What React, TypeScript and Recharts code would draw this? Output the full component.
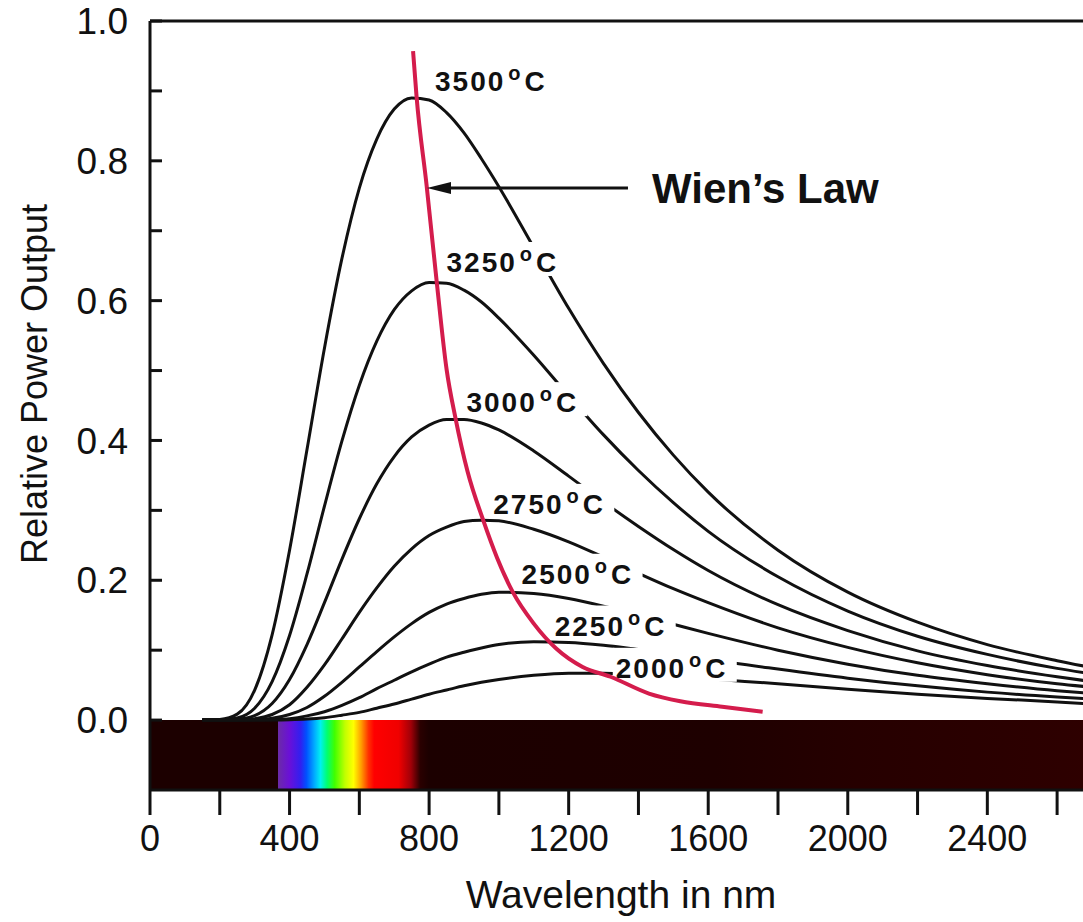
import React from "react";
import {
  Line,
  LineChart,
  ReferenceArea,
  ReferenceDot,
  ReferenceLine,
  XAxis,
  YAxis,
} from "recharts";

const FONT = "'Liberation Sans', Arial, Helvetica, sans-serif";

// wavelength samples (nm) shared by all the black-body curves
const wavelengths = [
  150, 200, 250, 300, 350, 400, 450, 500, 550, 600, 650, 700, 750, 800, 850,
  900, 950, 1000, 1100, 1200, 1300, 1400, 1500, 1600, 1800, 2000, 2200, 2400,
  2600, 2700,
];

// relative power output, one list per temperature
const t3500 = [
  0, 0.001, 0.0085, 0.043, 0.122, 0.243, 0.387, 0.532, 0.66, 0.761, 0.831,
  0.874, 0.89, 0.887, 0.869, 0.84, 0.803, 0.763, 0.676, 0.589, 0.51, 0.44,
  0.379, 0.326, 0.243, 0.183, 0.14, 0.108, 0.085, 0.075,
];
const t3250 = [
  0, 0, 0.003, 0.017, 0.055, 0.121, 0.209, 0.306, 0.399, 0.479, 0.542, 0.587,
  0.614, 0.626, 0.625, 0.615, 0.598, 0.575, 0.522, 0.464, 0.408, 0.357, 0.311,
  0.27, 0.205, 0.156, 0.12, 0.094, 0.074, 0.066,
];
const t3000 = [
  0, 0, 0.001, 0.0064, 0.0237, 0.058, 0.108, 0.168, 0.23, 0.288, 0.338, 0.377,
  0.405, 0.422, 0.43, 0.43, 0.425, 0.415, 0.385, 0.349, 0.312, 0.277, 0.244,
  0.214, 0.165, 0.128, 0.099, 0.078, 0.062, 0.055,
];
const t2750 = [
  0, 0, 0, 0.002, 0.008, 0.022, 0.047, 0.079, 0.116, 0.154, 0.189, 0.22, 0.245,
  0.264, 0.276, 0.284, 0.286, 0.285, 0.273, 0.255, 0.233, 0.21, 0.188, 0.168,
  0.132, 0.104, 0.082, 0.065, 0.052, 0.047,
];
const t2500 = [
  0, 0, 0, 0.0005, 0.0025, 0.008, 0.018, 0.034, 0.054, 0.076, 0.098, 0.119,
  0.138, 0.154, 0.166, 0.174, 0.18, 0.183, 0.181, 0.174, 0.163, 0.15, 0.137,
  0.124, 0.1, 0.08, 0.064, 0.052, 0.042, 0.038,
];
const t2250 = [
  0, 0, 0, 0.0001, 0.0006, 0.002, 0.006, 0.012, 0.021, 0.032, 0.045, 0.057,
  0.069, 0.08, 0.09, 0.097, 0.103, 0.108, 0.112, 0.111, 0.107, 0.101, 0.095,
  0.087, 0.073, 0.06, 0.049, 0.04, 0.033, 0.03,
];
const t2000 = [
  0, 0, 0, 0, 0.0001, 0.0005, 0.0015, 0.0035, 0.007, 0.011, 0.017, 0.023, 0.03,
  0.037, 0.043, 0.049, 0.054, 0.058, 0.064, 0.067, 0.067, 0.065, 0.063, 0.059,
  0.052, 0.044, 0.037, 0.031, 0.026, 0.023,
];

// Wien's law: locus of the peaks
const wienNm = [
  754, 764, 793, 822, 850, 876, 910, 955, 995, 1040, 1100, 1165, 1240, 1320,
  1430, 1520, 1640, 1756,
];
const wienVal = [
  0.957, 0.892, 0.764, 0.626, 0.502, 0.431, 0.356, 0.286, 0.232, 0.183, 0.138,
  0.102, 0.076, 0.062, 0.038, 0.027, 0.019, 0.012,
];

const series = [
  { key: "t3500", values: t3500 },
  { key: "t3250", values: t3250 },
  { key: "t3000", values: t3000 },
  { key: "t2750", values: t2750 },
  { key: "t2500", values: t2500 },
  { key: "t2250", values: t2250 },
  { key: "t2000", values: t2000 },
];

// curve labels: text, left edge (nm) and baseline (relative power)
const tempLabels = ["3500", "3250", "3000", "2750", "2500", "2250", "2000"];
const labelNm = [817, 850, 907, 984, 1065, 1160, 1335];
const labelVal = [0.9, 0.641, 0.4405, 0.295, 0.195, 0.121, 0.0605];

const xTicks = [0, 200, 400, 600, 800, 1000, 1200, 1400, 1600, 1800, 2000, 2200, 2400, 2600];
const yTicks = [0, 0.1, 0.2, 0.3, 0.4, 0.5, 0.6, 0.7, 0.8, 0.9, 1.0];

const rows = wavelengths.map((nm, i) => {
  const row: Record<string, number> = { nm };
  series.forEach((s) => (row[s.key] = s.values[i]));
  return row;
});
const wienRows = wienNm.map((nm, i) => ({ nm, wien: wienVal[i] }));

const spectrumStops = [
  [0, "#1c0000"],
  [0.1355, "#1c0000"],
  [0.1363, "#6b2aa8"],
  [0.148, "#6a10d8"],
  [0.16, "#3020f0"],
  [0.166, "#0050ff"],
  [0.175, "#00b0ff"],
  [0.181, "#00f0f0"],
  [0.188, "#00ff70"],
  [0.196, "#40ff00"],
  [0.207, "#c0ff00"],
  [0.216, "#ffff00"],
  [0.224, "#ffa000"],
  [0.232, "#ff3000"],
  [0.238, "#ff0000"],
  [0.264, "#f00000"],
  [0.277, "#a00008"],
  [0.287, "#2a0000"],
  [0.296, "#1c0000"],
  [0.6, "#1e0000"],
  [0.75, "#260000"],
  [1, "#2e0000"],
];

const renderTempLabel = (p: any, text: string) => (
  <g>
    <rect x={p.cx - 3} y={p.cy - 30} width={124} height={34} fill="#fff" />
    <text
      x={p.cx}
      y={p.cy}
      fontFamily={FONT}
      fontWeight="bold"
      fontSize={28}
      letterSpacing={2}
      fill="#111"
    >
      {text}
      <tspan fontSize={20} dx={3} dy={-11}>
        o
      </tspan>
      <tspan dx={2} dy={11}>
        C
      </tspan>
    </text>
  </g>
);

const renderArrow = (p: any) => {
  const { x1, y1, x2, y2 } = p;
  return (
    <g>
      <line x1={x1} y1={y1} x2={x2 + 20} y2={y2} stroke="#111" strokeWidth={3} />
      <polygon
        points={`${x2},${y2} ${x2 + 24},${y2 - 6} ${x2 + 24},${y2 + 6}`}
        fill="#111"
      />
      <text
        x={x1 + 24}
        y={y1 + 15}
        fontFamily={FONT}
        fontWeight="bold"
        fontSize={42}
        fill="#111"
      >
        Wien’s Law
      </text>
    </g>
  );
};

const renderYTitle = (p: any) => {
  const vb = p.viewBox;
  const x = vb.x + 47;
  const y = 384;
  return (
    <text
      x={x}
      y={y}
      transform={`rotate(-90 ${x} ${y})`}
      textAnchor="middle"
      fontFamily={FONT}
      fontSize={36}
      fill="#111"
    >
      Relative Power Output
    </text>
  );
};

export default function App() {
  return (
    <div
      style={{
        position: "absolute",
        left: 0,
        top: 0,
        width: 1083,
        height: 922,
        overflow: "hidden",
        background: "#fff",
      }}
    >
      <LineChart
        width={1093}
        height={922}
        data={rows}
        margin={{ top: 20, right: 0, bottom: 0, left: 0 }}
      >
        <defs>
          <linearGradient id="spectrum" x1="0" y1="0" x2="1" y2="0">
            {spectrumStops.map(([o, c]) => (
              <stop key={String(o)} offset={o as number} stopColor={c as string} />
            ))}
          </linearGradient>
        </defs>
        <XAxis
          dataKey="nm"
          type="number"
          domain={[0, 2700]}
          ticks={xTicks}
          interval={0}
          tickFormatter={(v: number) => (v % 400 === 0 ? String(v) : "")}
          height={132}
          tickSize={25}
          tickMargin={10}
          axisLine={{ stroke: "#111", strokeWidth: 3 }}
          tickLine={{ stroke: "#111", strokeWidth: 3 }}
          tick={{ fill: "#111", fontSize: 36, fontFamily: FONT }}
          label={{
            value: "Wavelength in nm",
            position: "insideBottom",
            offset: 14,
            fill: "#111",
            fontSize: 39,
            fontFamily: FONT,
          }}
        />
        <XAxis
          xAxisId="top"
          orientation="top"
          dataKey="nm"
          type="number"
          domain={[0, 2700]}
          ticks={xTicks}
          interval={0}
          height={1}
          tickSize={-10}
          tick={false}
          axisLine={{ stroke: "#111", strokeWidth: 3 }}
          tickLine={{ stroke: "#111", strokeWidth: 3 }}
        />
        <YAxis
          type="number"
          domain={[-0.1, 1]}
          ticks={yTicks}
          interval={0}
          width={150}
          tickSize={-12}
          tickMargin={34}
          tickFormatter={(v: number) =>
            Math.round(v * 10) % 2 === 0 ? v.toFixed(1) : ""
          }
          axisLine={{ stroke: "#111", strokeWidth: 3 }}
          tickLine={{ stroke: "#111", strokeWidth: 3 }}
          tick={{ fill: "#111", fontSize: 37, fontFamily: FONT }}
          label={renderYTitle}
        />
        <YAxis
          yAxisId="right"
          orientation="right"
          type="number"
          domain={[-0.1, 1]}
          ticks={yTicks}
          interval={0}
          width={1}
          tickSize={-10}
          tick={false}
          axisLine={{ stroke: "#111", strokeWidth: 3 }}
          tickLine={{ stroke: "#111", strokeWidth: 3 }}
        />
        <ReferenceArea
          x1={0}
          x2={2700}
          y1={-0.1}
          y2={0}
          fill="url(#spectrum)"
          fillOpacity={1}
          stroke="none"
        />
        {series.map((s) => (
          <Line
            key={s.key}
            dataKey={s.key}
            type="monotone"
            stroke="#111"
            strokeWidth={3}
            dot={false}
            activeDot={false}
            isAnimationActive={false}
          />
        ))}
        {tempLabels.map((t, i) => (
          <ReferenceDot
            key={t}
            x={labelNm[i]}
            y={labelVal[i]}
            r={1}
            zIndex={1500}
            shape={(p: any) => renderTempLabel(p, t)}
          />
        ))}
        <Line
          data={wienRows}
          dataKey="wien"
          type="monotone"
          stroke="#d41c4c"
          strokeWidth={4}
          dot={false}
          activeDot={false}
          zIndex={1600}
          isAnimationActive={false}
        />
        <ReferenceLine
          segment={[
            { x: 1370, y: 0.761 },
            { x: 794, y: 0.761 },
          ]}
          zIndex={1700}
          shape={renderArrow}
        />
      </LineChart>
    </div>
  );
}
